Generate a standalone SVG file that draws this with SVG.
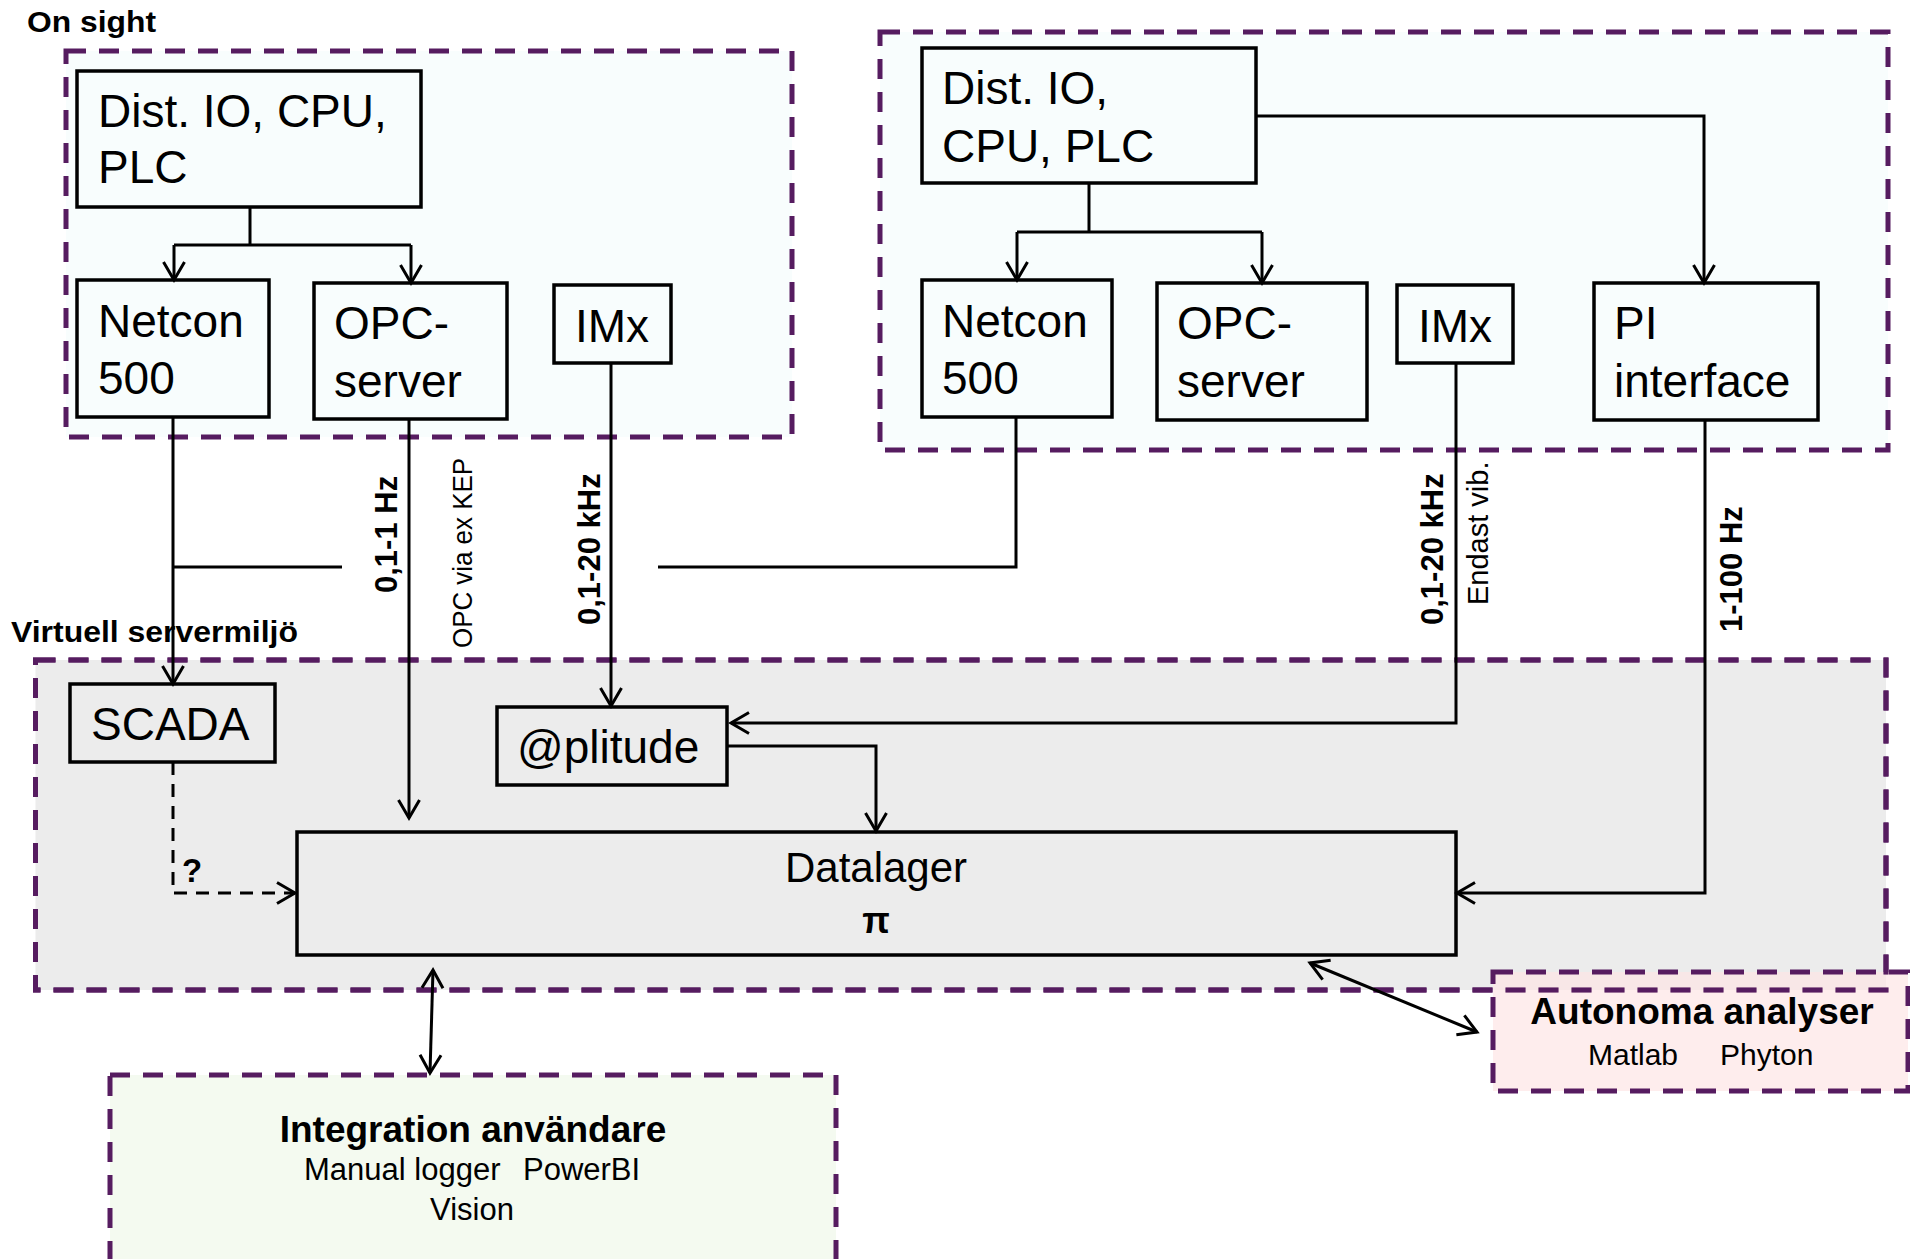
<svg xmlns="http://www.w3.org/2000/svg" width="1910" height="1259" viewBox="0 0 1910 1259">
<style>
text{font-family:"Liberation Sans",Arial,sans-serif;fill:#000}
.grp{stroke:#561c60;stroke-width:5;stroke-dasharray:20 13}
.node{stroke:#000;stroke-width:3.5}
.big{font-size:46px}
.lbl{font-size:31px;font-weight:bold}
.reg{font-size:29px}
.con{fill:none;stroke:#000;stroke-width:3}
</style>
<defs>
<marker id="arr" markerUnits="userSpaceOnUse" viewBox="-22 -14 26 28" markerWidth="26" markerHeight="28" refX="0" refY="0" orient="auto-start-reverse">
<path d="M-18,-10.5 L0,0 L-18,10.5" fill="none" stroke="#000" stroke-width="3"/>
</marker>
</defs>
<rect width="1910" height="1259" fill="#fff"/>

<g id="onsight-left">
<rect class="grp" x="66" y="51" width="726" height="386" fill="#f8fdfd"/>
</g>
<g id="onsight-right">
<rect class="grp" x="880" y="32" width="1008" height="418" fill="#f8fdfd"/>
</g>
<g id="virtual">
<rect class="grp" x="35.5" y="660" width="1850.5" height="330" fill="#ececec"/>
</g>
<g id="integration">
<rect class="grp" x="110" y="1075" width="726" height="192" fill="#f4faf0"/>
<text x="473" y="1142" font-size="37" font-weight="bold" text-anchor="middle">Integration användare</text>
<text y="1180" font-size="31"><tspan x="304">Manual logger</tspan><tspan x="523">PowerBI</tspan></text>
<text x="472" y="1220" font-size="31" text-anchor="middle">Vision</text>
</g>
<g id="autonoma">
<rect class="grp" x="1493" y="972" width="415" height="119" fill="#fde6e6" fill-opacity="0.7"/>
<rect class="grp" x="35.5" y="660" width="1850.5" height="330" fill="none"/>
<text x="1702" y="1024" font-size="37" font-weight="bold" text-anchor="middle">Autonoma analyser</text>
<text y="1065" font-size="30"><tspan x="1588">Matlab</tspan><tspan x="1720">Phyton</tspan></text>
</g>

<text x="27" y="32" font-size="29" font-weight="bold" textLength="129" lengthAdjust="spacingAndGlyphs">On sight</text>
<text x="11" y="642" font-size="29" font-weight="bold" textLength="287" lengthAdjust="spacingAndGlyphs">Virtuell servermiljö</text>

<g id="distio-left">
<rect class="node" x="77" y="71" width="344" height="136" fill="#f8fdfd"/>
<text class="big" x="98" y="127">Dist. IO, CPU,</text>
<text class="big" x="98" y="183">PLC</text>
</g>
<g id="netcon-left">
<rect class="node" x="77" y="280" width="192" height="137" fill="#f8fdfd"/>
<text class="big" x="98" y="337">Netcon</text>
<text class="big" x="98" y="394">500</text>
</g>
<g id="opc-left">
<rect class="node" x="314" y="283" width="193" height="136" fill="#f8fdfd"/>
<text class="big" x="334" y="339">OPC-</text>
<text class="big" x="334" y="397">server</text>
</g>
<g id="imx-left">
<rect class="node" x="554" y="285" width="117" height="78" fill="#f8fdfd"/>
<text class="big" x="575" y="342">IMx</text>
</g>
<g id="distio-right">
<rect class="node" x="922" y="48" width="334" height="135" fill="#f8fdfd"/>
<text class="big" x="942" y="104">Dist. IO,</text>
<text class="big" x="942" y="162">CPU, PLC</text>
</g>
<g id="netcon-right">
<rect class="node" x="922" y="280" width="190" height="137" fill="#f8fdfd"/>
<text class="big" x="942" y="337">Netcon</text>
<text class="big" x="942" y="394">500</text>
</g>
<g id="opc-right">
<rect class="node" x="1157" y="283" width="210" height="137" fill="#f8fdfd"/>
<text class="big" x="1177" y="339">OPC-</text>
<text class="big" x="1177" y="397">server</text>
</g>
<g id="imx-right">
<rect class="node" x="1397" y="285" width="116" height="78" fill="#f8fdfd"/>
<text class="big" x="1418" y="342">IMx</text>
</g>
<g id="pi-interface">
<rect class="node" x="1594" y="283" width="224" height="137" fill="#f8fdfd"/>
<text class="big" x="1614" y="339">PI</text>
<text class="big" x="1614" y="397">interface</text>
</g>
<g id="scada">
<rect class="node" x="70" y="684" width="205" height="78" fill="#ececec"/>
<text class="big" x="91" y="740">SCADA</text>
</g>
<g id="plitude">
<rect class="node" x="497" y="707" width="230" height="78" fill="#ececec"/>
<text class="big" x="517" y="763">@plitude</text>
</g>
<g id="datalager">
<rect class="node" x="297" y="832" width="1159" height="123" fill="#ececec"/>
<text x="876" y="882" font-size="42" text-anchor="middle">Datalager</text>
<text x="876" y="933" font-size="36" font-weight="bold" text-anchor="middle">π</text>
</g>

<g id="labels">
<text class="lbl" transform="translate(397,593) rotate(-90)">0,1-1 Hz</text>
<text transform="translate(472,648) rotate(-90)" font-size="27" textLength="190" lengthAdjust="spacingAndGlyphs">OPC via ex KEP</text>
<text class="lbl" transform="translate(600,625) rotate(-90)">0,1-20 kHz</text>
<text class="lbl" transform="translate(1443,625) rotate(-90)">0,1-20 kHz</text>
<text class="reg" transform="translate(1488,605) rotate(-90)">Endast vib.</text>
<text class="lbl" transform="translate(1742,632) rotate(-90)">1-100 Hz</text>
<text x="182" y="882" font-size="33" font-weight="bold">?</text>
</g>

<g id="connectors">
<path class="con" d="M250,207 V245 M174,245 H411"/>
<path class="con" d="M174,245 V280" marker-end="url(#arr)"/>
<path class="con" d="M411,245 V283" marker-end="url(#arr)"/>
<path class="con" d="M173,417 V684" marker-end="url(#arr)"/>
<path class="con" d="M174,567 H342"/>
<path class="con" d="M1016,417 V567 H658"/>
<path class="con" d="M409,419 V818" marker-end="url(#arr)"/>
<path class="con" d="M611,363 V706" marker-end="url(#arr)"/>
<path class="con" d="M1456,363 V723 H731" marker-end="url(#arr)"/>
<path class="con" d="M727,746 H876 V831" marker-end="url(#arr)"/>
<path class="con" d="M1705,420 V893 H1457" marker-end="url(#arr)"/>
<path class="con" d="M1256,116 H1704 V283" marker-end="url(#arr)"/>
<path class="con" d="M1089,183 V232 M1017,232 H1262"/>
<path class="con" d="M1017,232 V280" marker-end="url(#arr)"/>
<path class="con" d="M1262,232 V283" marker-end="url(#arr)"/>
<path class="con" d="M173,762 V893 H295" stroke-dasharray="13 9" marker-end="url(#arr)"/>
<path class="con" d="M433,970 L430,1073" marker-start="url(#arr)" marker-end="url(#arr)"/>
<path class="con" d="M1310,963 L1477,1032" stroke-width="3.5" marker-start="url(#arr)" marker-end="url(#arr)"/>
</g>
</svg>
